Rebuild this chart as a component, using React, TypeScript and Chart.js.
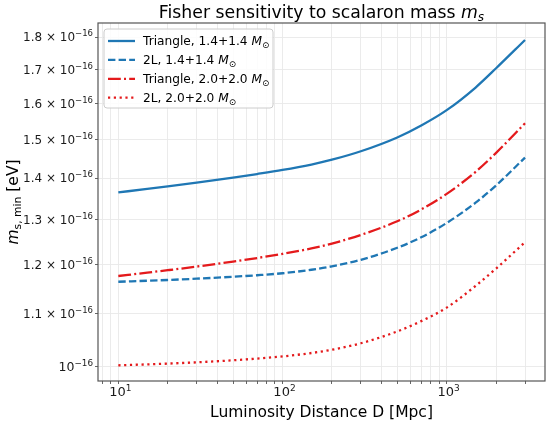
import React, { useEffect, useRef } from "react";
import { Chart, registerables } from "chart.js";

Chart.register(...registerables);

// Luminosity distance D [Mpc]
const DISTANCE_MPC = [10, 15, 20, 30, 50, 70, 100, 150, 200, 300, 500, 700, 1000, 1500, 2000, 3000];

// m_s,min in units of 1e-16 eV
const TRIANGLE_14 = [1.365, 1.3733, 1.3795, 1.3888, 1.4015, 1.4104, 1.4206, 1.4345, 1.4468, 1.4688, 1.5054, 1.5378, 1.5804, 1.6455, 1.703, 1.791];
const TWO_L_14 = [1.164, 1.1661, 1.1677, 1.1704, 1.1744, 1.1776, 1.1818, 1.1892, 1.1965, 1.2105, 1.2367, 1.2601, 1.2926, 1.3401, 1.382, 1.4524];
const TRIANGLE_20 = [1.176, 1.183, 1.1882, 1.1959, 1.2066, 1.2143, 1.2233, 1.2353, 1.2459, 1.2653, 1.2964, 1.3241, 1.3613, 1.4159, 1.4647, 1.5439];
const TWO_L_20 = [1.003, 1.0046, 1.006, 1.0083, 1.012, 1.0151, 1.019, 1.0252, 1.0312, 1.0432, 1.0654, 1.0851, 1.1115, 1.1555, 1.1918, 1.249];

const SERIES_LABELS = ["Triangle, 1.4+1.4 ", "2L, 1.4+1.4 ", "Triangle, 2.0+2.0 ", "2L, 2.0+2.0 "];

const Y_TICKS = [1.0, 1.1, 1.2, 1.3, 1.4, 1.5, 1.6, 1.7, 1.8];
const Y_TICK_MANTISSA = ["", "1.1", "1.2", "1.3", "1.4", "1.5", "1.6", "1.7", "1.8"];
const Y_TICK_EXPONENT = "−16";

const X_GRID = [8, 9, 10, 20, 30, 40, 50, 60, 70, 80, 90, 100, 200, 300, 400, 500, 600, 700, 800, 900, 1000, 2000, 3000];
const X_MAJOR = [10, 100, 1000];
const X_TICK_EXPONENTS = ["1", "2", "3"];

const TITLE = "Fisher sensitivity to scalaron mass ";
const X_TITLE = "Luminosity Distance D [Mpc]";

const BLUE = "#1f77b4";
const RED = "#e41a1c";
const FONT = '"DejaVu Sans", sans-serif';
const TEXT = "#1a1a1a";

type Run = { t: string; size: number; italic?: boolean; dy?: number };

function runsWidth(ctx: CanvasRenderingContext2D, runs: Run[]) {
  let total = 0;
  runs.forEach((r) => {
    ctx.font = `${r.italic ? "italic " : ""}${r.size}px ${FONT}`;
    total += ctx.measureText(r.t).width;
  });
  return total;
}

function drawRuns(ctx: CanvasRenderingContext2D, runs: Run[], x: number, y: number, align: "left" | "center" | "right") {
  ctx.textBaseline = "alphabetic";
  ctx.textAlign = "left";
  const total = runsWidth(ctx, runs);
  let cx = align === "center" ? x - total / 2 : align === "right" ? x - total : x;
  runs.forEach((r) => {
    ctx.font = `${r.italic ? "italic " : ""}${r.size}px ${FONT}`;
    ctx.fillText(r.t, cx, y + (r.dy || 0));
    cx += ctx.measureText(r.t).width;
  });
}

const overlayPlugin = {
  id: "overlay",
  afterDraw(chart: any) {
    const ctx: CanvasRenderingContext2D = chart.ctx;
    const a = chart.chartArea;
    const xs = chart.scales.x;
    const ys = chart.scales.y;
    ctx.save();
    // frame
    ctx.strokeStyle = "#555555";
    ctx.lineWidth = 1.2;
    ctx.strokeRect(a.left, a.top, a.right - a.left, a.bottom - a.top);

    ctx.fillStyle = TEXT;
    // y tick labels
    Y_TICKS.forEach((v, i) => {
      const py = ys.getPixelForValue(v);
      const m = Y_TICK_MANTISSA[i];
      const runs: Run[] = m
        ? [
            { t: m + " × 10", size: 12 },
            { t: Y_TICK_EXPONENT, size: 8.5, dy: -5 },
          ]
        : [
            { t: "10", size: 12.5 },
            { t: Y_TICK_EXPONENT, size: 8.8, dy: -5.2 },
          ];
      drawRuns(ctx, runs, a.left - 5, py + 4.3, "right");
    });
    // x tick labels
    X_MAJOR.forEach((v, i) => {
      const px = xs.getPixelForValue(v);
      drawRuns(
        ctx,
        [
          { t: "10", size: 13 },
          { t: X_TICK_EXPONENTS[i], size: 9, dy: -5.5 },
        ],
        px + 2,
        396,
        "center"
      );
    });

    ctx.fillStyle = "#000000";
    // title
    drawRuns(
      ctx,
      [
        { t: TITLE, size: 17.3 },
        { t: "m", size: 17.3, italic: true },
        { t: "s", size: 12.1, italic: true, dy: 3 },
      ],
      (a.left + a.right) / 2,
      18,
      "center"
    );
    // x title
    drawRuns(ctx, [{ t: X_TITLE, size: 15.5 }], (a.left + a.right) / 2, 417, "center");
    // y title
    ctx.save();
    ctx.translate(18, (a.top + a.bottom) / 2);
    ctx.rotate(-Math.PI / 2);
    drawRuns(
      ctx,
      [
        { t: "m", size: 15.5, italic: true },
        { t: "s, min", size: 10.8, dy: 3 },
        { t: " [eV]", size: 15.5 },
      ],
      0,
      0,
      "center"
    );
    ctx.restore();

    // legend
    const bx = 104, by = 29, bw = 169, bh = 79, r = 3;
    ctx.beginPath();
    ctx.moveTo(bx + r, by);
    ctx.arcTo(bx + bw, by, bx + bw, by + bh, r);
    ctx.arcTo(bx + bw, by + bh, bx, by + bh, r);
    ctx.arcTo(bx, by + bh, bx, by, r);
    ctx.arcTo(bx, by, bx + bw, by, r);
    ctx.closePath();
    ctx.fillStyle = "rgba(255,255,255,0.85)";
    ctx.fill();
    ctx.strokeStyle = "#cccccc";
    ctx.lineWidth = 1;
    ctx.stroke();

    chart.data.datasets.forEach((ds: any, i: number) => {
      const cy = 41 + i * 18.9;
      ctx.beginPath();
      ctx.setLineDash(ds.borderDash || []);
      ctx.lineCap = "butt";
      ctx.strokeStyle = ds.borderColor;
      ctx.lineWidth = ds.borderWidth;
      ctx.moveTo(108, cy);
      ctx.lineTo(135, cy);
      ctx.stroke();
      ctx.setLineDash([]);
      ctx.fillStyle = "#000000";
      drawRuns(
        ctx,
        [
          { t: SERIES_LABELS[i], size: 12.2 },
          { t: "M", size: 12.2, italic: true },
          { t: "⊙", size: 8.8, dy: 2.5 },
        ],
        143,
        cy + 4.4,
        "left"
      );
    });
    ctx.restore();
  },
};

function pts(ys: number[]) {
  return DISTANCE_MPC.map((d, i) => ({ x: d, y: ys[i] }));
}

export default function App() {
  const ref = useRef<HTMLCanvasElement | null>(null);
  useEffect(() => {
    if (!ref.current) return;
    const common = { pointRadius: 0, fill: false, cubicInterpolationMode: "monotone" as const, borderCapStyle: "butt" as const, borderWidth: 2.3 };
    const chart = new Chart(ref.current, {
      type: "line",
      data: {
        datasets: [
          { ...common, label: SERIES_LABELS[0], data: pts(TRIANGLE_14), borderColor: BLUE, borderDash: [] },
          { ...common, label: SERIES_LABELS[1], data: pts(TWO_L_14), borderColor: BLUE, borderDash: [7.4, 3.2] },
          { ...common, label: SERIES_LABELS[2], data: pts(TRIANGLE_20), borderColor: RED, borderDash: [12.8, 3.2, 2, 3.2] },
          { ...common, label: SERIES_LABELS[3], data: pts(TWO_L_20), borderColor: RED, borderDash: [2.2, 3.6] },
        ] as any,
      },
      options: {
        responsive: false,
        animation: false,
        layout: { padding: { top: 23, right: 5, left: 0, bottom: 0 } },
        plugins: { legend: { display: false }, title: { display: false }, tooltip: { enabled: false } },
        scales: {
          x: {
            type: "logarithmic",
            min: 7.52,
            max: 3970,
            afterBuildTicks: (s: any) => {
              s.ticks = X_GRID.map((v) => ({ value: v }));
            },
            afterFit: (s: any) => {
              s.height = 44;
            },
            ticks: { display: false, autoSkip: false, maxRotation: 0 },
            grid: { color: "#e9e9e9", lineWidth: 0.9, tickColor: "#555555", tickLength: 3, drawTicks: true },
            border: { display: false },
          },
          y: {
            type: "logarithmic",
            min: 0.9753,
            max: 1.846,
            afterBuildTicks: (s: any) => {
              s.ticks = Y_TICKS.map((v) => ({ value: v }));
            },
            afterFit: (s: any) => {
              s.width = 98;
            },
            ticks: { display: false, autoSkip: false },
            grid: { color: "#e9e9e9", lineWidth: 0.9, tickColor: "#555555", tickLength: 3, drawTicks: true },
            border: { display: false },
          },
        },
      } as any,
      plugins: [overlayPlugin],
    });
    return () => chart.destroy();
  }, []);
  return (
    <div style={{ position: "fixed", left: 0, top: 0, width: 550, height: 425, background: "#ffffff" }}>
      <canvas ref={ref} width={550} height={425} />
    </div>
  );
}
